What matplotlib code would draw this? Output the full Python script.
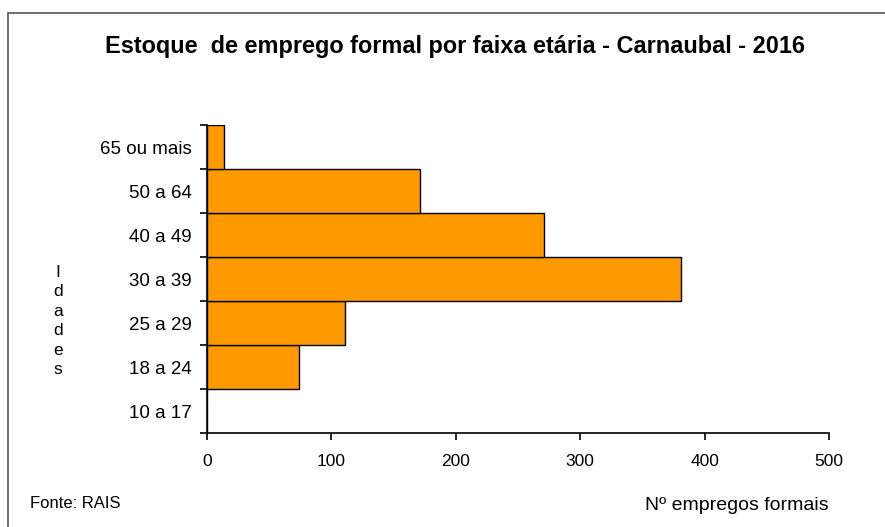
import matplotlib
matplotlib.use("Agg")
import matplotlib.pyplot as plt
from matplotlib.patches import Rectangle
import numpy as np

categories = ["10 a 17", "18 a 24", "25 a 29", "30 a 39", "40 a 49", "50 a 64", "65 ou mais"]
values = [0, 74, 111, 381, 271, 171, 14]
x_ticks = [0, 100, 200, 300, 400, 500]

title = "Estoque  de emprego formal por faixa etária - Carnaubal - 2016"
ylabel = "Idades"
source = "Fonte: RAIS"
xlabel = "Nº empregos formais"

plt.rcParams['font.family'] = ['Liberation Sans', 'DejaVu Sans']

W, H = 885, 527
fig = plt.figure(figsize=(W / 100, H / 100), dpi=100)

# figure border
fig.patches.append(Rectangle((8 / W, -0.1), 1.2, (H - 13) / H + 0.1,
                             transform=fig.transFigure, fill=False,
                             edgecolor="#555555", linewidth=1.2))

ax = fig.add_axes([207 / W, (H - 433) / H, (829 - 207) / W, (433 - 125) / H])
pos = np.arange(len(categories))
ax.barh(pos, values, height=1.0, color="#FF9900", edgecolor="black", linewidth=1.0)

ax.set_xlim(0, 500)
ax.set_ylim(-0.5, len(categories) - 0.5)
ax.set_xticks(x_ticks)
ax.set_xticklabels([str(t) for t in x_ticks], fontsize=12.5)
ax.set_yticks(np.arange(len(categories) + 1) - 0.5)
ax.set_yticklabels([])
ax.set_yticks(pos, minor=True)
ax.set_yticklabels(categories, minor=True, fontsize=13.5)
ax.tick_params(axis='y', which='minor', length=0, pad=11)
ax.tick_params(axis='y', which='major', length=5, width=1.2, direction='out')
ax.tick_params(axis='x', length=5, width=1.2, direction='out', pad=10)
for s in ["top", "right"]:
    ax.spines[s].set_visible(False)
for s in ["left", "bottom"]:
    ax.spines[s].set_linewidth(1.2)

fig.text(455 / W, (H - 47) / H, title, ha='center', va='center', fontsize=16.9,
         fontweight='bold')
fig.text(58 / W, (H - 321) / H, "\n".join(ylabel), ha='center', va='center',
         fontsize=12.5, linespacing=1.38)
fig.text(30 / W, (H - 503) / H, source, ha='left', va='center', fontsize=12)
fig.text(829 / W, (H - 506) / H, xlabel, ha='right', va='center', fontsize=14)

fig.savefig("out.png", dpi=100)
